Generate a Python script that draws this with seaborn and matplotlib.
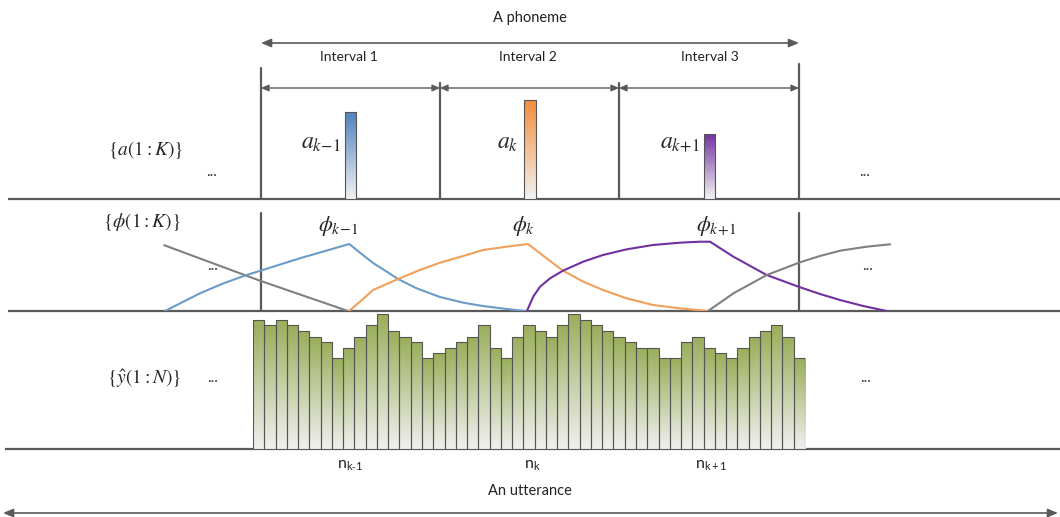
import numpy as np
import matplotlib
matplotlib.use("Agg")
import matplotlib.pyplot as plt
from matplotlib.colors import LinearSegmentedColormap
import seaborn as sns

# ---------------- data ----------------
a_labels = [r"$a_{k\!-\!1}$", r"$a_{k}$", r"$a_{k\!+\!1}$"]
a_values = [0.80, 0.91, 0.60]
a_colors = ["#4f81bd", "#f28c38", "#7030a0"]

# phi curves: t in interval units (0 = start of Interval 1), w = weight
gray_l_t = [-0.54, -0.006, 0.485]
gray_l_w = [0.94, 0.433, 0.0]
blue_t = [-0.535, -0.433, -0.34, -0.21, -0.08, 0.217, 0.492, 0.552, 0.625, 0.701,
          0.764, 0.868, 0.998, 1.128, 1.238, 1.370, 1.472]
blue_w = [0.0, 0.133, 0.253, 0.395, 0.514, 0.753, 0.957, 0.833, 0.686, 0.562,
          0.457, 0.324, 0.20, 0.119, 0.071, 0.029, 0.0]
orange_t = [0.491, 0.552, 0.625, 0.764, 0.886, 0.998, 1.128, 1.238, 1.370, 1.489,
            1.593, 1.684, 1.797, 1.907, 2.039, 2.186, 2.336, 2.49]
orange_w = [0.0, 0.133, 0.30, 0.457, 0.586, 0.69, 0.786, 0.871, 0.919, 0.957,
            0.752, 0.576, 0.419, 0.30, 0.181, 0.086, 0.038, 0.0]
purple_t = [1.483, 1.518, 1.556, 1.612, 1.684, 1.797, 1.907, 2.039, 2.186, 2.336,
            2.448, 2.504, 2.634, 2.82, 3.006, 3.117, 3.229, 3.359, 3.489]
purple_w = [0.0, 0.205, 0.347, 0.467, 0.576, 0.705, 0.80, 0.881, 0.943, 0.976,
            0.99, 0.99, 0.776, 0.514, 0.339, 0.243, 0.157, 0.071, 0.0]
gray_r_t = [2.493, 2.634, 2.82, 3.006, 3.117, 3.229, 3.378, 3.508]
gray_r_w = [0.0, 0.252, 0.514, 0.696, 0.786, 0.861, 0.919, 0.953]
phi_labels = [r"$\phi_{k\!-\!1}$", r"$\phi_{k}$", r"$\phi_{k\!+\!1}$"]

# y-hat frame values (49 frames)
yhat = [129, 124, 129, 124, 118, 112, 107, 91, 101, 112, 124, 135, 118, 112, 107,
        91, 96, 101, 107, 112, 124, 101, 91, 112, 124, 118, 112, 124, 135, 129,
        124, 118, 112, 107, 101, 101, 91, 91, 107, 112, 101, 96, 91, 101, 112,
        118, 124, 112, 91]
n_labels = [r"$\mathregular{n_{k\text{-}1}}$", r"$\mathregular{n_{k}}$", r"$\mathregular{n_{k+1}}$"]

# ---------------- style ----------------
sns.set_style("white")
plt.rcParams["font.family"] = ["Lato", "DejaVu Sans"]
plt.rcParams["mathtext.fontset"] = "stix"

W, H = 1060, 517
fig = plt.figure(figsize=(W / 100, H / 100), dpi=100)
LC = "#5a5a5a"


def frac_ax(x0, x1, ytop, ybot):
    a = fig.add_axes([x0 / W, (H - ybot) / H, (x1 - x0) / W, (ybot - ytop) / H])
    a.set_axis_off()
    a.patch.set_alpha(0)
    return a


def gradient_fill(ax, bottom_color="#f2f2f2", top=None):
    xl, yl = ax.get_xlim(), ax.get_ylim()
    for p in list(ax.patches):
        x, y, w, h = p.get_x(), p.get_y(), p.get_width(), p.get_height()
        ctop = top if top is not None else p.get_facecolor()
        cmap = LinearSegmentedColormap.from_list("g", [bottom_color, ctop])
        grad = np.linspace(1, 0, 256).reshape(-1, 1)
        im = ax.imshow(grad, extent=[x, x + w, y, y + h], origin="upper",
                       aspect="auto", cmap=cmap, vmin=0, vmax=1, zorder=1)
        im.set_clip_path(p)
        p.set_facecolor("none")
        p.set_zorder(2)
    ax.set_xlim(xl)
    ax.set_ylim(yl)


# main scaffolding axes in pixel coordinates
ax = fig.add_axes([0, 0, 1, 1])
ax.set_xlim(0, W)
ax.set_ylim(H, 0)
ax.set_axis_off()

# horizontal baselines
for yy, x0 in [(199, 8), (311, 8), (449, 5)]:
    ax.plot([x0, W], [yy, yy], color=LC, lw=1.6, solid_capstyle="butt")
# vertical boundaries (top section)
for xx, yt in [(261, 68), (440, 83), (619, 83), (799, 64)]:
    ax.plot([xx, xx], [yt, 199], color=LC, lw=1.6)
# vertical boundaries (phi section)
for xx in [261, 799]:
    ax.plot([xx, xx], [213, 311], color=LC, lw=1.6)

arrow_kw = dict(arrowstyle="<|-|>,head_length=0.6,head_width=0.25", color=LC, lw=1.2,
                shrinkA=0, shrinkB=0)
ax.annotate("", xy=(799, 43), xytext=(261, 43), arrowprops=arrow_kw)
for x0, x1 in [(261, 440), (440, 619), (619, 799)]:
    ax.annotate("", xy=(x1, 88), xytext=(x0, 88),
                arrowprops=dict(arrowstyle="<|-|>,head_length=0.45,head_width=0.2",
                                color=LC, lw=1.0, shrinkA=0, shrinkB=0))
ax.annotate("", xy=(1058, 513), xytext=(3, 513), arrowprops=arrow_kw)

# texts
ax.text(530, 18, "A phoneme", ha="center", va="center", fontsize=10.5, color="#222222")
for xx, s in [(349, "Interval 1"), (528, "Interval 2"), (710, "Interval 3")]:
    ax.text(xx, 57, s, ha="center", va="center", fontsize=10, color="#222222")
ax.text(530, 491, "An utterance", ha="center", va="center", fontsize=10.5, color="#222222")
for xx, s in zip([350, 532, 711], n_labels):
    ax.text(xx, 466, s, ha="center", va="center", fontsize=11.5, color="#222222")

ax.text(146, 150, r"$\{a(1:K)\}$", ha="center", va="center", fontsize=14)
ax.text(142, 222, r"$\{\phi(1:K)\}$", ha="center", va="center", fontsize=14)
ax.text(144, 379, r"$\{\hat{y}(1:N)\}$", ha="center", va="center", fontsize=14)
for xx, yy in [(212, 172), (865, 172), (213, 266), (868, 266), (213, 378), (866, 378)]:
    ax.text(xx, yy, "...", ha="center", va="center", fontsize=11, color="#333333")

for xx, s in zip([341, 518, 700], a_labels):
    ax.text(xx, 143, s, ha="right", va="center", fontsize=17)
for xx, s in zip([338, 524, 716], phi_labels):
    ax.text(xx, 226, s, ha="center", va="center", fontsize=16)

# ---------------- a(1:K) bars ----------------
ax_a = frac_ax(261, 799, 90, 199)
sns.barplot(x=[0, 1, 2], y=a_values, hue=[0, 1, 2], palette=a_colors, width=0.064,
            saturation=1, legend=False, edgecolor="#555555", linewidth=0.8, ax=ax_a)
ax_a.set_xlim(-0.5, 2.5)
ax_a.set_ylim(0, 1.0)
gradient_fill(ax_a)
ax_a.set_axis_off()

# ---------------- phi curves ----------------
ax_p = frac_ax(0, W, 199, 311)
for t, w, c in [(gray_l_t, gray_l_w, "#808080"), (blue_t, blue_w, "#6b9bc8"),
                (orange_t, orange_w, "#f0a05a"), (purple_t, purple_w, "#7030a0"),
                (gray_r_t, gray_r_w, "#808080")]:
    sns.lineplot(x=t, y=w, color=c, lw=1.5, ax=ax_p, estimator=None, sort=False)
ax_p.set_xlim(-261 / 179.33, (W - 261) / 179.33)
ax_p.set_ylim(0, 112 / 70)
ax_p.set_axis_off()

# ---------------- y-hat bars ----------------
ax_y = frac_ax(253, 805, 309, 449)
sns.barplot(x=list(range(len(yhat))), y=yhat, color="#9aae5a", width=1.0, saturation=1,
            edgecolor="#555555", linewidth=0.8, ax=ax_y)
ax_y.set_xlim(-0.5, len(yhat) - 0.5)
ax_y.set_ylim(0, 140)
gradient_fill(ax_y, bottom_color="#f0f0f0", top="#9aae5a")
ax_y.set_axis_off()

fig.savefig("out.png", dpi=100)
